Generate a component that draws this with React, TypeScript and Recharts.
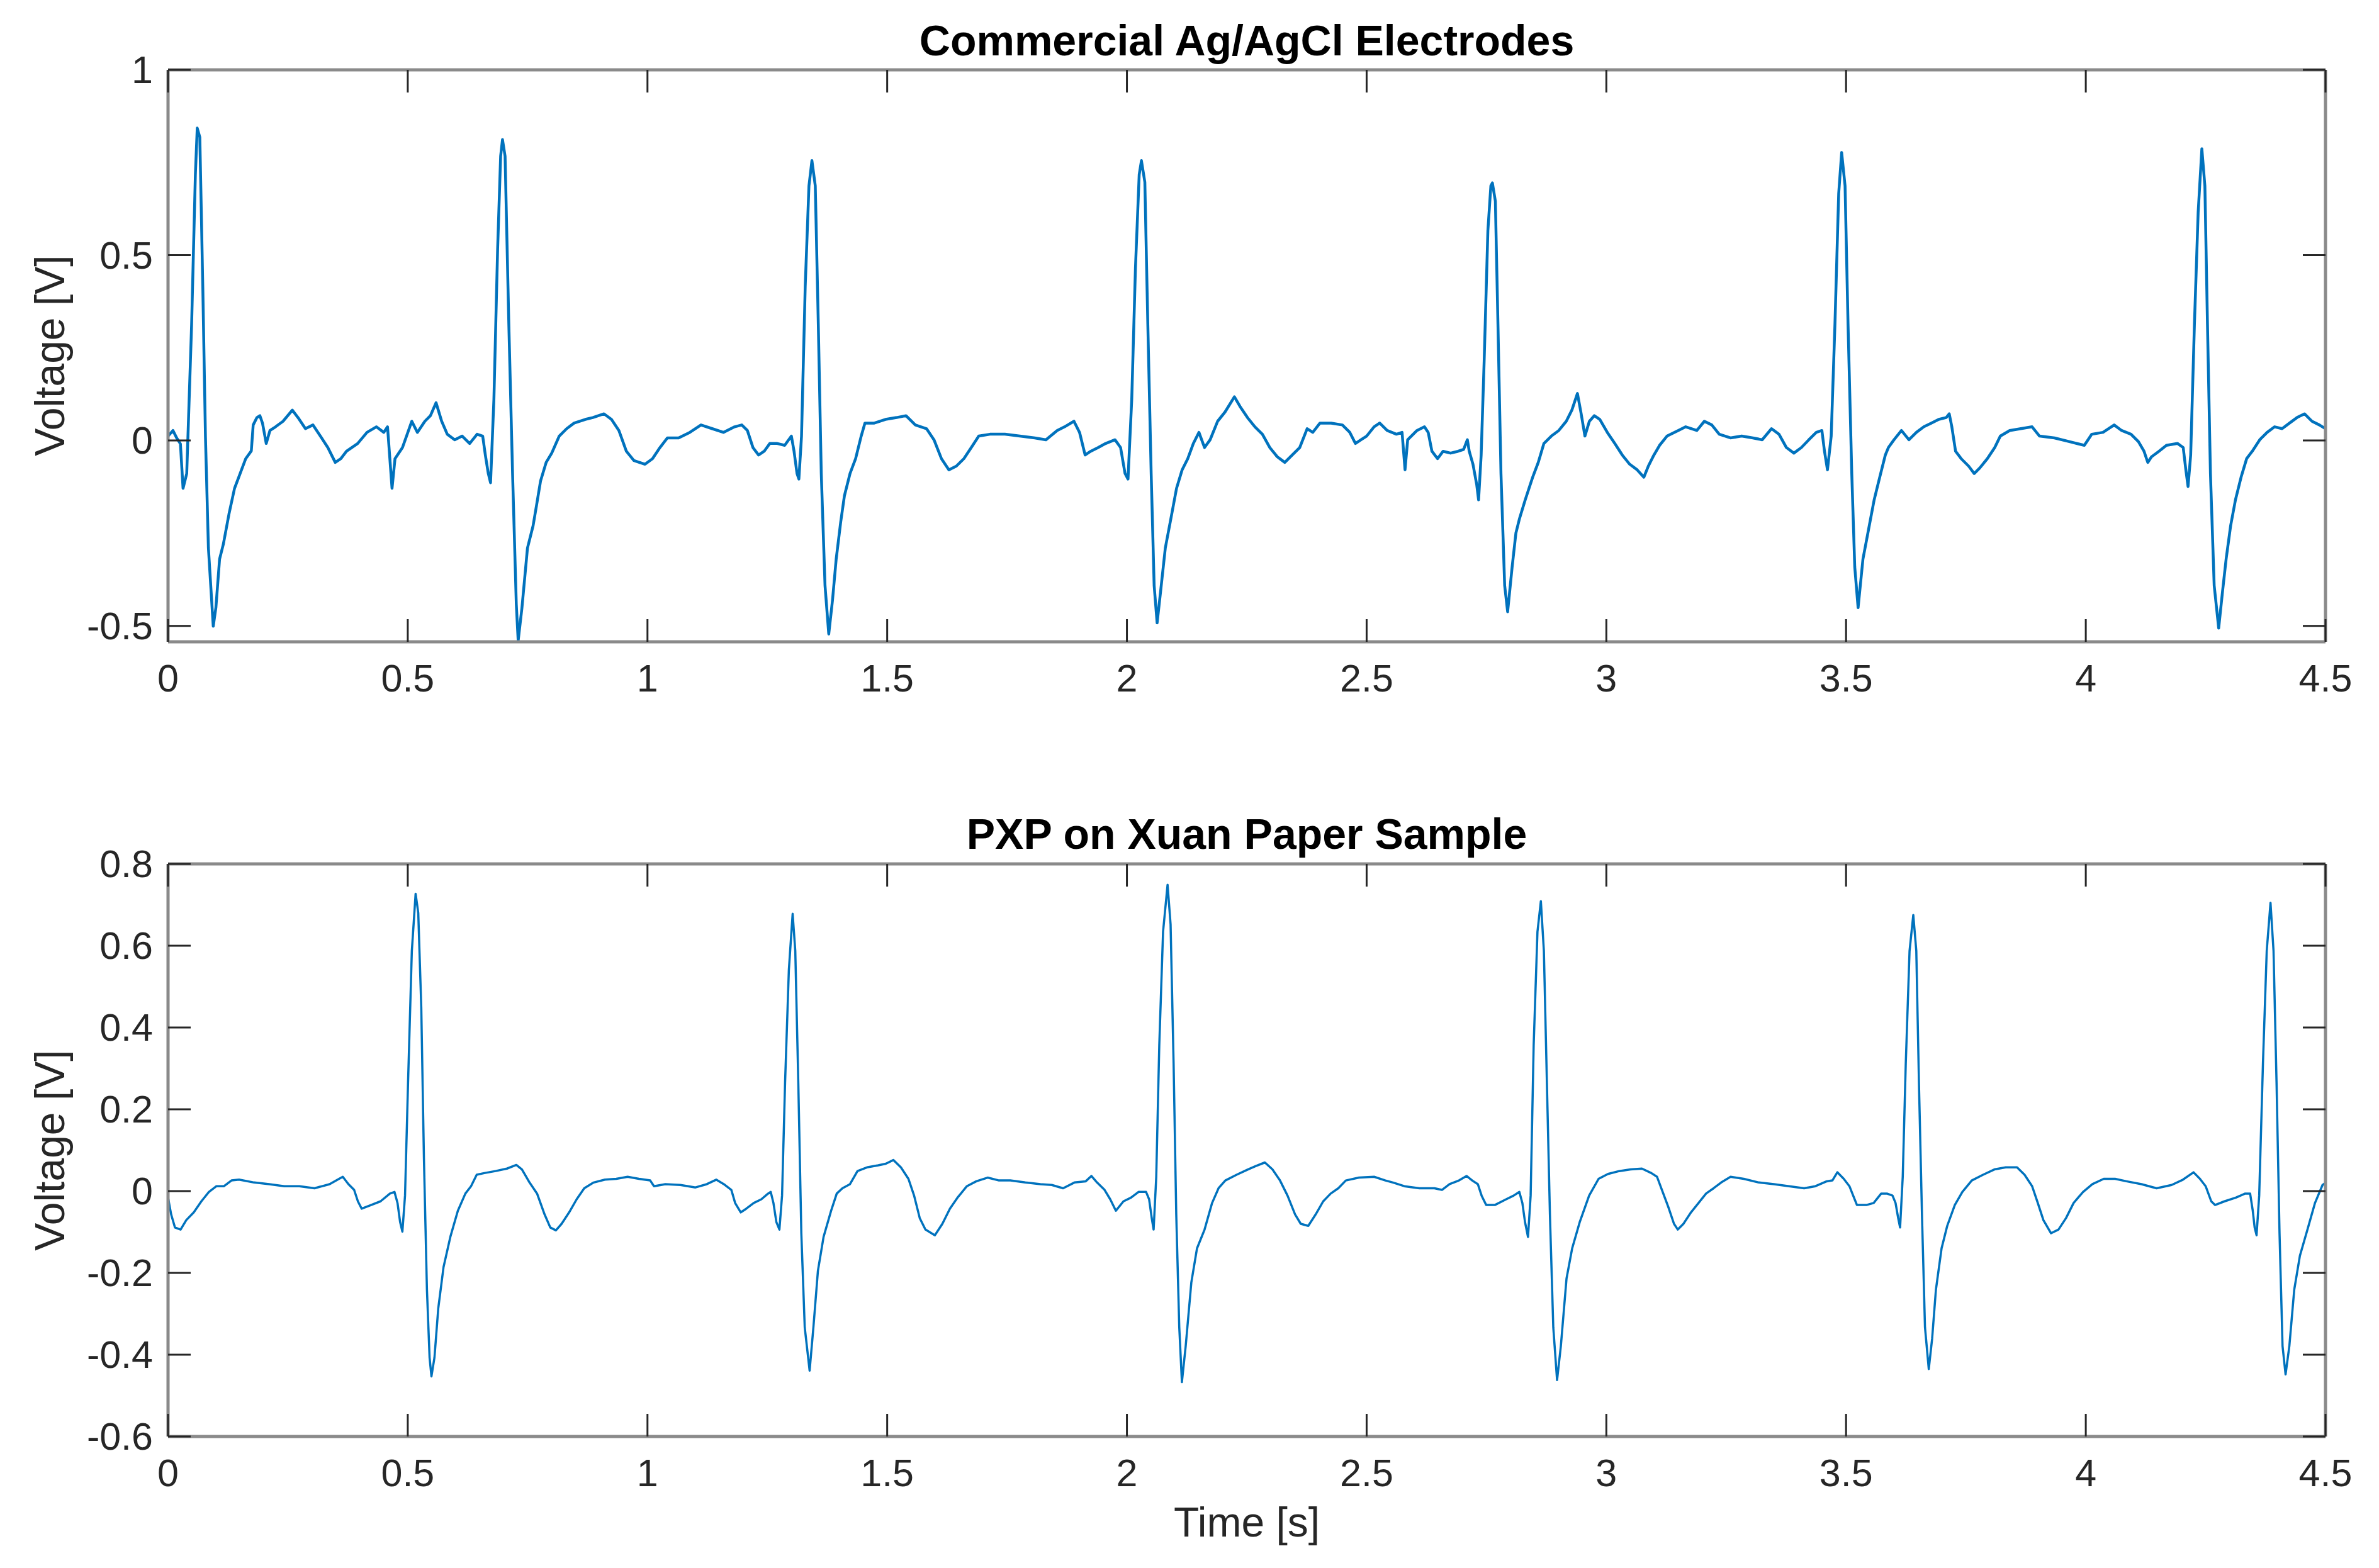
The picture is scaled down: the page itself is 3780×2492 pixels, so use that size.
import React from 'react';
import { LineChart, Line, XAxis, YAxis } from 'recharts';

// ---------- data ----------
const timeTicks = [0, 0.5, 1, 1.5, 2, 2.5, 3, 3.5, 4, 4.5];
const commercialVoltTicks = [-0.5, 0, 0.5, 1];
const pxpVoltTicks = [-0.6, -0.4, -0.2, 0, 0.2, 0.4, 0.6, 0.8];
const commercialDomain: [number, number] = [-0.543, 1];
const pxpDomain: [number, number] = [-0.6, 0.8];

const commercialTitle = 'Commercial Ag/AgCl Electrodes';
const pxpTitle = 'PXP on Xuan Paper Sample';
const yLabel = 'Voltage [V]';
const xLabel = 'Time [s]';

// [time s, voltage V]
const commercialTrace: [number, number][] = [
  [0, 0.012], [0.0103, 0.027], [0.018, 0.007], [0.0258, -0.009], [0.0313, -0.129], [0.039, -0.089],
  [0.0492, 0.314], [0.057, 0.717], [0.0609, 0.843], [0.0663, 0.818], [0.0725, 0.415], [0.078, 0.012],
  [0.0842, -0.29], [0.0943, -0.501], [0.0998, -0.451], [0.1075, -0.32], [0.1153, -0.28], [0.127, -0.199],
  [0.1387, -0.129], [0.1504, -0.089], [0.162, -0.049], [0.1737, -0.028], [0.1776, 0.042], [0.1854, 0.062],
  [0.1916, 0.067], [0.197, 0.047], [0.2048, -0.008], [0.2126, 0.027], [0.2243, 0.037], [0.2399, 0.052],
  [0.2593, 0.082], [0.271, 0.062], [0.2866, 0.032], [0.3022, 0.042], [0.3177, 0.012], [0.3333, -0.019],
  [0.3488, -0.059], [0.3605, -0.049], [0.3722, -0.029], [0.3955, -0.008], [0.415, 0.022], [0.4345, 0.037],
  [0.45, 0.022], [0.4578, 0.037], [0.4672, -0.129], [0.4734, -0.049], [0.489, -0.019], [0.5084, 0.052],
  [0.5201, 0.022], [0.5357, 0.052], [0.5473, 0.067], [0.559, 0.102], [0.5707, 0.052], [0.5824, 0.017],
  [0.5979, 0.002], [0.6135, 0.012], [0.6291, -0.008], [0.6446, 0.017], [0.6563, 0.012], [0.6618, -0.039],
  [0.668, -0.089], [0.6727, -0.114], [0.6797, 0.112], [0.6874, 0.515], [0.6937, 0.767], [0.6976, 0.812],
  [0.703, 0.767], [0.7108, 0.314], [0.7186, -0.089], [0.7264, -0.442], [0.7303, -0.54], [0.7381, -0.452],
  [0.7497, -0.29], [0.7614, -0.23], [0.7692, -0.17], [0.777, -0.109], [0.7887, -0.059], [0.8003, -0.034],
  [0.8159, 0.012], [0.8315, 0.032], [0.847, 0.047], [0.8704, 0.057], [0.886, 0.062], [0.9093, 0.072],
  [0.9249, 0.057], [0.9404, 0.027], [0.956, -0.029], [0.9716, -0.054], [0.9949, -0.064], [1.0105, -0.049],
  [1.026, -0.019], [1.0416, 0.007], [1.0649, 0.007], [1.0883, 0.022], [1.1116, 0.042], [1.135, 0.032],
  [1.1584, 0.022], [1.1817, 0.037], [1.1967, 0.042], [1.2084, 0.027], [1.22, -0.019], [1.2317, -0.039],
  [1.2434, -0.029], [1.2551, -0.008], [1.2707, -0.008], [1.2862, -0.013], [1.3002, 0.012], [1.3057, -0.029],
  [1.3119, -0.089], [1.3158, -0.104], [1.3213, 0.012], [1.329, 0.415], [1.3368, 0.687], [1.343, 0.755],
  [1.35, 0.687], [1.3563, 0.314], [1.3625, -0.089], [1.3703, -0.391], [1.3781, -0.522], [1.3859, -0.431],
  [1.3936, -0.32], [1.403, -0.22], [1.4108, -0.149], [1.4225, -0.089], [1.4341, -0.049], [1.4458, 0.012],
  [1.4536, 0.047], [1.4731, 0.047], [1.4964, 0.057], [1.5198, 0.062], [1.5392, 0.067], [1.5587, 0.042],
  [1.582, 0.032], [1.5976, 0.002], [1.6132, -0.049], [1.6287, -0.079], [1.6443, -0.069], [1.6599, -0.049],
  [1.6754, -0.019], [1.691, 0.012], [1.7144, 0.017], [1.7455, 0.017], [1.7766, 0.012], [1.8078, 0.007],
  [1.8311, 0.002], [1.8545, 0.027], [1.87, 0.037], [1.8895, 0.052], [1.9012, 0.022], [1.9128, -0.039],
  [1.9245, -0.029], [1.9401, -0.019], [1.9556, -0.008], [1.9751, 0.002], [1.9868, -0.019], [1.9961, -0.089],
  [2.0023, -0.104], [2.0101, 0.112], [2.0178, 0.465], [2.0256, 0.717], [2.0303, 0.755], [2.0374, 0.697],
  [2.0436, 0.314], [2.0506, -0.089], [2.0568, -0.391], [2.063, -0.492], [2.0708, -0.401], [2.0801, -0.29],
  [2.0918, -0.21], [2.1035, -0.129], [2.1152, -0.079], [2.1269, -0.049], [2.1386, -0.008], [2.1502, 0.022],
  [2.1619, -0.019], [2.1736, 0.002], [2.1892, 0.052], [2.2047, 0.077], [2.2242, 0.118], [2.2359, 0.092],
  [2.2514, 0.062], [2.267, 0.037], [2.2826, 0.017], [2.2981, -0.019], [2.3137, -0.044], [2.3293, -0.059],
  [2.3448, -0.039], [2.3604, -0.019], [2.376, 0.032], [2.3877, 0.022], [2.4027, 0.047], [2.426, 0.047],
  [2.4494, 0.042], [2.4649, 0.022], [2.4766, -0.008], [2.4883, 0.002], [2.5, 0.012], [2.5155, 0.037],
  [2.5272, 0.047], [2.5428, 0.027], [2.5622, 0.017], [2.5739, 0.022], [2.5801, -0.079], [2.5856, 0.002],
  [2.605, 0.027], [2.6206, 0.037], [2.6284, 0.022], [2.6362, -0.029], [2.6479, -0.049], [2.6595, -0.029],
  [2.6751, -0.034], [2.6907, -0.029], [2.7023, -0.024], [2.7101, 0.002], [2.714, -0.029], [2.7218, -0.064],
  [2.7296, -0.119], [2.7335, -0.16], [2.7389, -0.039], [2.7451, 0.213], [2.7529, 0.566], [2.7591, 0.687],
  [2.7623, 0.695], [2.7685, 0.646], [2.7739, 0.314], [2.7802, -0.089], [2.7879, -0.391], [2.7941, -0.462],
  [2.8035, -0.341], [2.8113, -0.25], [2.819, -0.21], [2.8308, -0.16], [2.8463, -0.099], [2.858, -0.059],
  [2.8697, -0.008], [2.8853, 0.012], [2.9008, 0.027], [2.9164, 0.052], [2.9281, 0.082], [2.9397, 0.127],
  [2.9475, 0.072], [2.9553, 0.012], [2.9646, 0.052], [2.9748, 0.067], [2.9864, 0.057], [3.002, 0.022],
  [3.0176, -0.008], [3.0331, -0.039], [3.0487, -0.064], [3.0643, -0.079], [3.0783, -0.099], [3.0876, -0.069],
  [3.0993, -0.039], [3.111, -0.013], [3.1265, 0.012], [3.1499, 0.027], [3.1655, 0.037], [3.1888, 0.027],
  [3.2044, 0.052], [3.22, 0.042], [3.2355, 0.017], [3.2589, 0.007], [3.2822, 0.012], [3.3056, 0.007],
  [3.325, 0.002], [3.3445, 0.032], [3.3601, 0.017], [3.3756, -0.019], [3.3912, -0.034], [3.4068, -0.019],
  [3.4223, 0.002], [3.4379, 0.022], [3.4496, 0.027], [3.455, -0.029], [3.4612, -0.079], [3.469, 0.012],
  [3.4768, 0.314], [3.4846, 0.666], [3.4908, 0.777], [3.4979, 0.687], [3.5041, 0.314], [3.5119, -0.089],
  [3.5181, -0.341], [3.5251, -0.451], [3.5352, -0.32], [3.5469, -0.24], [3.5586, -0.16], [3.5702, -0.099],
  [3.5819, -0.039], [3.5883, -0.019], [3.6, 0.002], [3.6155, 0.027], [3.6311, 0.002], [3.6467, 0.022],
  [3.6622, 0.037], [3.6778, 0.047], [3.6934, 0.057], [3.7089, 0.062], [3.7152, 0.072], [3.7206, 0.037],
  [3.7284, -0.029], [3.7401, -0.049], [3.7556, -0.069], [3.7673, -0.089], [3.779, -0.074], [3.7946, -0.049],
  [3.8101, -0.019], [3.8218, 0.012], [3.8413, 0.027], [3.8646, 0.032], [3.888, 0.037], [3.9035, 0.012],
  [3.9347, 0.007], [3.9658, -0.003], [3.997, -0.013], [4.0125, 0.017], [4.0359, 0.022], [4.0592, 0.042],
  [4.0748, 0.027], [4.0943, 0.017], [4.1098, -0.003], [4.1215, -0.029], [4.1293, -0.059], [4.1371, -0.044],
  [4.1526, -0.029], [4.1682, -0.013], [4.1915, -0.008], [4.2032, -0.019], [4.2087, -0.079], [4.2133, -0.124],
  [4.2188, -0.039], [4.2266, 0.314], [4.2344, 0.616], [4.2421, 0.787], [4.2484, 0.687], [4.2538, 0.314],
  [4.26, -0.089], [4.2678, -0.391], [4.2772, -0.506], [4.2849, -0.411], [4.2927, -0.32], [4.3021, -0.23],
  [4.3122, -0.16], [4.3239, -0.099], [4.3355, -0.049], [4.3472, -0.029], [4.3628, 0.002], [4.3783, 0.022],
  [4.3939, 0.037], [4.4095, 0.032], [4.425, 0.047], [4.4406, 0.062], [4.4562, 0.072], [4.4718, 0.052],
  [4.4873, 0.042], [4.5, 0.032],
];

const pxpTrace: [number, number][] = [
  [0, -0.016], [0.0065, -0.057], [0.0144, -0.089], [0.0262, -0.094], [0.038, -0.071], [0.0537, -0.052],
  [0.0695, -0.025], [0.0852, -0.002], [0.101, 0.012], [0.1167, 0.012], [0.1324, 0.026], [0.1482, 0.028],
  [0.1796, 0.021], [0.2111, 0.017], [0.2426, 0.012], [0.274, 0.012], [0.3055, 0.007], [0.337, 0.017],
  [0.3567, 0.03], [0.3645, 0.035], [0.3763, 0.017], [0.3881, 0.003], [0.396, -0.025], [0.4039, -0.043],
  [0.4235, -0.034], [0.4432, -0.025], [0.4629, -0.006], [0.4723, -0.002], [0.4786, -0.029], [0.4841, -0.076],
  [0.4888, -0.099], [0.4943, -0.011], [0.5006, 0.265], [0.5085, 0.587], [0.5164, 0.727], [0.5219, 0.68],
  [0.5282, 0.449], [0.5337, 0.081], [0.54, -0.241], [0.5455, -0.407], [0.5494, -0.453], [0.5557, -0.407],
  [0.5636, -0.287], [0.5746, -0.186], [0.5888, -0.112], [0.6045, -0.048], [0.6202, -0.006], [0.632, 0.012],
  [0.6438, 0.04], [0.6596, 0.044], [0.6832, 0.049], [0.7068, 0.055], [0.7265, 0.064], [0.7382, 0.053],
  [0.754, 0.021], [0.7697, -0.006], [0.7854, -0.057], [0.7973, -0.089], [0.809, -0.096], [0.8209, -0.08],
  [0.8366, -0.052], [0.8523, -0.02], [0.8681, 0.007], [0.8877, 0.021], [0.9113, 0.028], [0.935, 0.03],
  [0.9586, 0.035], [0.9822, 0.03], [1.0057, 0.026], [1.0136, 0.012], [1.0372, 0.017], [1.0687, 0.015],
  [1.1001, 0.009], [1.1238, 0.017], [1.1434, 0.028], [1.1592, 0.017], [1.1749, 0.003], [1.1828, -0.029],
  [1.1946, -0.052], [1.206, -0.043], [1.2217, -0.029], [1.2375, -0.02], [1.2516, -0.006], [1.2571, -0.002],
  [1.2627, -0.029], [1.2689, -0.076], [1.2752, -0.094], [1.2807, -0.011], [1.287, 0.265], [1.2949, 0.541],
  [1.3028, 0.678], [1.3083, 0.587], [1.3146, 0.265], [1.3209, -0.103], [1.328, -0.333], [1.3382, -0.439],
  [1.3461, -0.333], [1.3555, -0.195], [1.3673, -0.112], [1.383, -0.048], [1.3948, -0.006], [1.4066, 0.007],
  [1.4224, 0.017], [1.4381, 0.049], [1.4578, 0.058], [1.4814, 0.063], [1.4971, 0.067], [1.5128, 0.076],
  [1.5286, 0.058], [1.5443, 0.03], [1.5561, -0.011], [1.5679, -0.066], [1.5797, -0.094], [1.5994, -0.108],
  [1.6151, -0.08], [1.6308, -0.043], [1.6466, -0.016], [1.6662, 0.012], [1.6859, 0.024], [1.7095, 0.033],
  [1.7332, 0.026], [1.7568, 0.026], [1.7882, 0.021], [1.8197, 0.017], [1.8433, 0.015], [1.8669, 0.007],
  [1.8905, 0.021], [1.9141, 0.024], [1.9259, 0.037], [1.9377, 0.021], [1.9534, 0.003], [1.9652, -0.02],
  [1.977, -0.048], [1.9928, -0.025], [2.0085, -0.016], [2.0242, -0.002], [2.04, -0.002], [2.0463, -0.02],
  [2.0518, -0.066], [2.0557, -0.094], [2.0612, 0.035], [2.0675, 0.357], [2.0754, 0.634], [2.0848, 0.749],
  [2.0911, 0.652], [2.0974, 0.311], [2.1029, -0.057], [2.1092, -0.333], [2.1147, -0.467], [2.1226, -0.379],
  [2.1344, -0.223], [2.1462, -0.14], [2.162, -0.094], [2.1777, -0.029], [2.1911, 0.007], [2.2053, 0.026],
  [2.2288, 0.04], [2.2524, 0.053], [2.2682, 0.061], [2.2878, 0.07], [2.3036, 0.053], [2.3193, 0.026],
  [2.335, -0.011], [2.3508, -0.057], [2.3626, -0.08], [2.3783, -0.085], [2.3937, -0.057], [2.4094, -0.025],
  [2.4251, -0.006], [2.4409, 0.007], [2.4566, 0.026], [2.4841, 0.033], [2.5156, 0.035], [2.5392, 0.026],
  [2.5549, 0.021], [2.5786, 0.012], [2.61, 0.007], [2.6415, 0.007], [2.6572, 0.003], [2.673, 0.017],
  [2.6926, 0.026], [2.7084, 0.037], [2.7202, 0.026], [2.732, 0.017], [2.7398, -0.011], [2.7493, -0.034],
  [2.7674, -0.034], [2.791, -0.02], [2.8067, -0.011], [2.8185, -0.002], [2.8248, -0.029], [2.8304, -0.076],
  [2.8366, -0.112], [2.8421, -0.011], [2.8484, 0.357], [2.8563, 0.634], [2.8634, 0.709], [2.8697, 0.587],
  [2.876, 0.265], [2.8823, -0.057], [2.8893, -0.333], [2.8972, -0.462], [2.9051, -0.379], [2.9169, -0.214],
  [2.9287, -0.14], [2.9444, -0.076], [2.9641, -0.011], [2.9838, 0.03], [3.0034, 0.042], [3.027, 0.049],
  [3.0506, 0.053], [3.0742, 0.055], [3.0939, 0.044], [3.1057, 0.035], [3.1175, -0.002], [3.1293, -0.039],
  [3.1411, -0.08], [3.149, -0.094], [3.1608, -0.08], [3.1765, -0.052], [3.1923, -0.029], [3.208, -0.006],
  [3.2237, 0.007], [3.2395, 0.021], [3.2591, 0.035], [3.2866, 0.03], [3.3181, 0.021], [3.3496, 0.017],
  [3.381, 0.012], [3.4125, 0.007], [3.4361, 0.012], [3.4597, 0.024], [3.4715, 0.026], [3.4818, 0.046],
  [3.4952, 0.03], [3.507, 0.012], [3.5148, -0.011], [3.5227, -0.034], [3.5424, -0.034], [3.5576, -0.029],
  [3.5733, -0.006], [3.5851, -0.006], [3.5969, -0.011], [3.6032, -0.029], [3.6087, -0.066], [3.6127, -0.089],
  [3.6182, 0.035], [3.6245, 0.311], [3.6324, 0.587], [3.6402, 0.675], [3.6465, 0.587], [3.652, 0.265],
  [3.6583, -0.057], [3.6646, -0.333], [3.6725, -0.435], [3.6795, -0.361], [3.6874, -0.241], [3.6992, -0.14],
  [3.711, -0.085], [3.7268, -0.034], [3.7425, -0.002], [3.7622, 0.026], [3.7858, 0.04], [3.8094, 0.053],
  [3.833, 0.058], [3.8566, 0.058], [3.8723, 0.04], [3.8881, 0.012], [3.8999, -0.029], [3.9116, -0.071],
  [3.9274, -0.103], [3.9431, -0.094], [3.9588, -0.066], [3.9746, -0.029], [3.9943, -0.002], [4.0139, 0.017],
  [4.0375, 0.03], [4.0611, 0.03], [4.0847, 0.024], [4.1162, 0.017], [4.1477, 0.007], [4.1791, 0.015],
  [4.2027, 0.028], [4.2248, 0.046], [4.2381, 0.03], [4.25, 0.012], [4.2617, -0.025], [4.2696, -0.034],
  [4.2893, -0.025], [4.3129, -0.016], [4.3325, -0.006], [4.3428, -0.006], [4.3483, -0.048], [4.3522, -0.089],
  [4.3562, -0.108], [4.3617, -0.011], [4.3695, 0.311], [4.3774, 0.587], [4.3853, 0.705], [4.3916, 0.587],
  [4.3979, 0.265], [4.4041, -0.103], [4.4104, -0.379], [4.4167, -0.448], [4.4246, -0.379], [4.4348, -0.241],
  [4.4466, -0.158], [4.4624, -0.094], [4.4781, -0.029], [4.4938, 0.015], [4.5, 0.02],
];

// ---------- styling ----------
const FONT = '"Liberation Sans", Arial, Helvetica, sans-serif';
const TEXT = '#262626';
const BOX = '#8a8a8a';
const LINE = '#0072BD';
const TICK_LEN = 36;
const TICK_FONT = 61;
const LABEL_FONT = 66;
const TITLE_FONT = 68;

const W = 3780;
const PLOT_LEFT = 267;
const PLOT_RIGHT = 3695;
const PLOT_TOP = 111;

const toRows = (trace: [number, number][]) => trace.map(([t, v]) => ({ t, v }));

const BottomTick = (props: any) => {
  const { x, y, payload } = props;
  return (
    <g>
      <line x1={x} y1={y} x2={x} y2={y - TICK_LEN} stroke={TEXT} strokeWidth={3} />
      <text x={x} y={y + 79} textAnchor="middle" fontSize={TICK_FONT} fill={TEXT} fontFamily={FONT}>
        {String(payload.value)}
      </text>
    </g>
  );
};
const TopTick = (props: any) => {
  const { x, y } = props;
  return <line x1={x} y1={y} x2={x} y2={y + TICK_LEN} stroke={TEXT} strokeWidth={3} />;
};
const LeftTick = (props: any) => {
  const { x, y, payload } = props;
  return (
    <g>
      <line x1={x} y1={y} x2={x + TICK_LEN} y2={y} stroke={TEXT} strokeWidth={3} />
      <text x={x - 24} y={y + 21} textAnchor="end" fontSize={TICK_FONT} fill={TEXT} fontFamily={FONT}>
        {String(payload.value)}
      </text>
    </g>
  );
};
const RightTick = (props: any) => {
  const { x, y } = props;
  return <line x1={x} y1={y} x2={x - TICK_LEN} y2={y} stroke={TEXT} strokeWidth={3} />;
};

const axisLine = { stroke: BOX, strokeWidth: 5 };

type PanelProps = {
  rows: { t: number; v: number }[];
  yDomain: [number, number];
  yTicks: number[];
  height: number;
  bottomSpace: number;
  strokeWidth: number;
};

const Panel = ({ rows, yDomain, yTicks, height, bottomSpace, strokeWidth }: PanelProps) => (
  <LineChart width={W} height={height} data={rows} margin={{ top: 0, right: 0, bottom: 0, left: 0 }}>
    <XAxis
      xAxisId="bottom"
      dataKey="t"
      type="number"
      domain={[0, 4.5]}
      ticks={timeTicks}
      interval={0}
      allowDataOverflow
      height={bottomSpace}
      tickSize={0}
      tickMargin={0}
      tickLine={false}
      axisLine={axisLine}
      tick={<BottomTick />}
    />
    <XAxis
      xAxisId="top"
      orientation="top"
      dataKey="t"
      type="number"
      domain={[0, 4.5]}
      ticks={timeTicks}
      interval={0}
      allowDataOverflow
      height={PLOT_TOP}
      tickSize={0}
      tickMargin={0}
      tickLine={false}
      axisLine={axisLine}
      tick={<TopTick />}
    />
    <YAxis
      yAxisId="left"
      type="number"
      domain={yDomain}
      ticks={yTicks}
      interval={0}
      allowDataOverflow
      width={PLOT_LEFT}
      tickSize={0}
      tickMargin={0}
      tickLine={false}
      axisLine={axisLine}
      tick={<LeftTick />}
    />
    <YAxis
      yAxisId="right"
      orientation="right"
      type="number"
      domain={yDomain}
      ticks={yTicks}
      interval={0}
      allowDataOverflow
      width={W - PLOT_RIGHT}
      tickSize={0}
      tickMargin={0}
      tickLine={false}
      axisLine={axisLine}
      tick={<RightTick />}
    />
    <Line
      xAxisId="bottom"
      yAxisId="left"
      type="linear"
      dataKey="v"
      stroke={LINE}
      strokeWidth={strokeWidth}
      strokeLinejoin="round"
      dot={false}
      activeDot={false}
      isAnimationActive={false}
    />
  </LineChart>
);

const CHART1_TOP = 0;
const CHART1_H = 1200;
const CHART2_TOP = 1262;
const CHART2_H = 1230;

export default function App() {
  const plotCenterX = (PLOT_LEFT + PLOT_RIGHT) / 2;
  return (
    <div style={{ position: 'absolute', left: 0, top: 0, width: W, height: 2492, background: '#fff', overflow: 'hidden' }}>
      <div style={{ position: 'absolute', left: 0, top: CHART1_TOP }}>
        <Panel
          rows={toRows(commercialTrace)}
          yDomain={commercialDomain}
          yTicks={commercialVoltTicks}
          height={CHART1_H}
          bottomSpace={CHART1_H - 1020}
          strokeWidth={4.5}
        />
      </div>
      <div style={{ position: 'absolute', left: 0, top: CHART2_TOP }}>
        <Panel
          rows={toRows(pxpTrace)}
          yDomain={pxpDomain}
          yTicks={pxpVoltTicks}
          height={CHART2_H}
          bottomSpace={CHART2_H - (2283 - CHART2_TOP)}
          strokeWidth={3.5}
        />
      </div>
      <svg width={W} height={2492} style={{ position: 'absolute', left: 0, top: 0, pointerEvents: 'none' }}>
        <text x={plotCenterX} y={88} textAnchor="middle" fontSize={TITLE_FONT} fontWeight="bold" fill="#000" fontFamily={FONT}>
          {commercialTitle}
        </text>
        <text x={plotCenterX} y={1349} textAnchor="middle" fontSize={TITLE_FONT} fontWeight="bold" fill="#000" fontFamily={FONT}>
          {pxpTitle}
        </text>
        <text x={102} y={565} transform="rotate(-90 102 565)" textAnchor="middle" fontSize={LABEL_FONT} fill={TEXT} fontFamily={FONT}>
          {yLabel}
        </text>
        <text x={102} y={1828} transform="rotate(-90 102 1828)" textAnchor="middle" fontSize={LABEL_FONT} fill={TEXT} fontFamily={FONT}>
          {yLabel}
        </text>
        <text x={plotCenterX} y={2442} textAnchor="middle" fontSize={LABEL_FONT} fill={TEXT} fontFamily={FONT}>
          {xLabel}
        </text>
      </svg>
    </div>
  );
}
